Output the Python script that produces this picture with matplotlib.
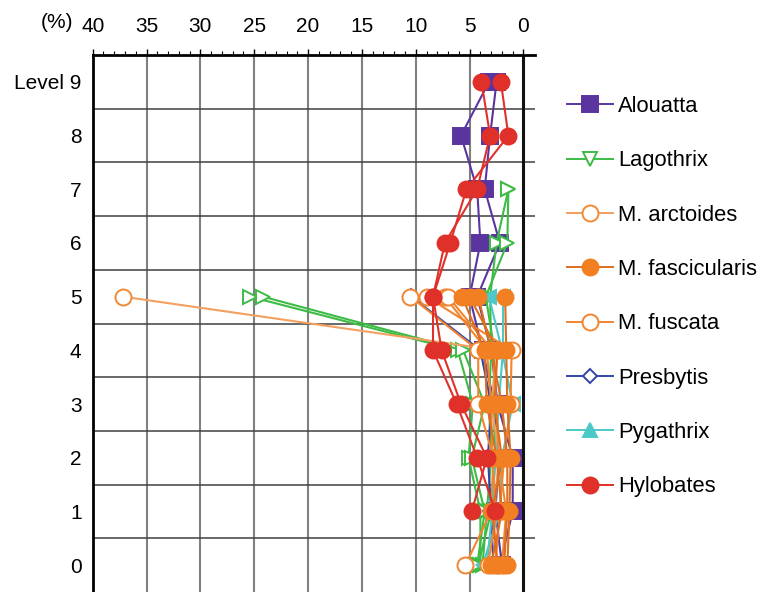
import numpy as np
import matplotlib
matplotlib.use("Agg")
from matplotlib import pyplot as plt
from matplotlib.lines import Line2D

plt.rcParams['font.family'] = ['Liberation Sans', 'DejaVu Sans']

nan = np.nan
levels = [0, 1, 2, 3, 4, 5, 6, 7, 8, 9]
level_labels = ['0', '1', '2', '3', '4', '5', '6', '7', '8', 'Level 9']
x_ticks = [0, 5, 10, 15, 20, 25, 30, 35, 40]

# one list per specimen, values (%) for levels 0..9
alouatta = [[2.2, 1.0, 1.0, 2.4, 3.0, 4.3, 2.2, 3.6, 3.1, 2.5],
            [2.0, 2.6, 2.3, 2.7, 3.8, 5.0, 4.0, 4.3, 5.8, 3.2]]
lagothrix = [[3.8, 3.4, 3.0, 3.2, 3.0, 3.1, 2.5, 1.4],
             [4.2, 3.0, 2.6, 2.8, 2.7, 3.5, 1.5, 1.4],
             [4.0, 4.0, 5.1, 4.7, 6.1, 25.4],
             [4.3, 3.6, 4.8, 3.6, 5.6, 24.2]]
arctoides = [[2.5, 2.8, 2.2, 3.0, 2.4, 37.2]]
fascicularis = [[3.0, 2.0, 2.5, 3.4, 3.6, 5.7],
                [2.4, 2.9, 2.0, 2.7, 2.4, 5.0],
                [1.8, 1.5, 1.5, 2.0, 3.0, 4.2],
                [1.5, 1.3, 1.2, 1.5, 1.6, 1.7]]
fuscata = [[5.4, 3.0, 2.8, 4.2, 4.2, 10.5],
           [2.6, 2.2, 1.8, 1.2, 1.1, 9.0],
           [3.3, 2.5, 2.9, 3.0, 3.4, 7.3],
           [2.0, 1.6, 2.3, 2.5, 2.9, 7.0]]
presbytis = [[2.8, 3.0, 3.3, 3.0, 4.0, 10.4]]
pygathrix = [[3.8, 2.2, 2.0, 1.0, 2.0, 3.2],
             [3.4, 2.9, 2.6, 2.3, 1.9, 1.9]]
hylobates = [[nan, 2.6, 4.3, 6.2, 8.4, 8.4, 7.3, 4.3, 3.1, 3.9],
             [nan, 4.8, 3.4, 5.8, 7.6, 8.4, 6.8, 5.3, 1.4, 2.1]]

# name, data, colour, line colour, plot marker, legend marker, filled, size
genera = [
    ('Alouatta', alouatta, '#5a35a0', '#5a35a0', 's', 's', True, 11),
    ('Lagothrix', lagothrix, '#3dbb45', '#3dbb45', '>', 'v', False, 10.5),
    ('M. arctoides', arctoides, '#f28a34', '#f4a060', 'o', 'o', False, 11.5),
    ('M. fascicularis', fascicularis, '#f27f22', '#dc6e1e', 'o', 'o', True, 11.5),
    ('M. fuscata', fuscata, '#f28530', '#f28530', 'o', 'o', False, 11.5),
    ('Presbytis', presbytis, '#3344aa', '#3344aa', 'D', 'D', False, 8),
    ('Pygathrix', pygathrix, '#4cc8c8', '#4cc8c8', '<', '^', True, 10.5),
    ('Hylobates', hylobates, '#e0302a', '#e0302a', 'o', 'o', True, 11.5),
]
draw_order = ['Alouatta', 'Lagothrix', 'Presbytis', 'Pygathrix',
              'M. arctoides', 'M. fuscata', 'M. fascicularis', 'Hylobates']

fig = plt.figure(figsize=(7.61, 5.92), dpi=100)
ax = fig.add_axes([92.7 / 761, 0, 442.3 / 761, 537 / 592])

# grid
for v in x_ticks[1:-1]:
    ax.axvline(v, color='#808080', lw=1.5, zorder=0)
for h in np.arange(0.5, 9, 1.0):
    ax.axhline(h, color='#404040', lw=1.1, zorder=0)
ax.axvline(0, color='#111111', lw=2.2, zorder=0)

lookup = {g[0]: g for g in genera}
for name in draw_order:
    _, data, col, lcol, mk, _, filled, ms = lookup[name]
    for spec in data:
        ax.plot(spec, levels[:len(spec)], color=lcol, lw=1.5, marker=mk, ms=ms,
                markerfacecolor=col if filled else 'white',
                markeredgecolor=col, markeredgewidth=1.4)

ax.set_xlim(40, -1.07)
ax.set_ylim(-0.5, 9.5)
ax.xaxis.tick_top()
ax.set_xticks(x_ticks)
ax.set_xticks(np.arange(0, 41, 1), minor=True)
ax.tick_params(axis='x', which='major', direction='out', length=4.5, width=1,
               pad=9, labelsize=15)
ax.tick_params(axis='x', which='minor', direction='out', length=3, width=0.8)
ax.set_yticks(levels)
ax.set_yticklabels(level_labels)
ax.tick_params(axis='y', length=0, pad=8, labelsize=15)
for s in ['right', 'bottom']:
    ax.spines[s].set_visible(False)
ax.spines['left'].set_linewidth(2)
ax.spines['top'].set_linewidth(2)

fig.text(73 / 761, 1 - 23 / 592, '(%)', ha='right', va='center', fontsize=15)

handles = []
for name, data, col, lcol, mk, lmk, filled, ms in genera:
    handles.append(Line2D([], [], color=lcol, lw=1.4, marker=lmk,
                          ms=ms if lmk != 'D' else 7,
                          markerfacecolor=col if filled else 'white',
                          markeredgecolor=col, markeredgewidth=1.4))
fig.legend(handles, [g[0] for g in genera], loc='upper left',
           bbox_to_anchor=(567 / 761, 1 - 96 / 592), frameon=False,
           fontsize=15.8, handlelength=2.1, handletextpad=0.22,
           labelspacing=1.52, borderpad=0, borderaxespad=0)

fig.savefig('out.png', dpi=100)
